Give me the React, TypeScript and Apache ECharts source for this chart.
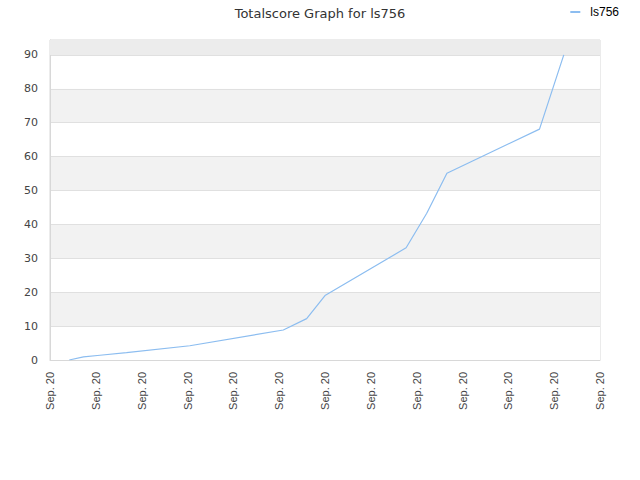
import React, { useEffect, useRef } from "react";
import * as echarts from "echarts";

const titleText = "Totalscore Graph for ls756";
const seriesName = "ls756";
const xLabel = "Sep. 20";
const xPositions = [0.42, 0.73, 1.09, 1.67, 3.05, 5.09, 5.6, 6.0, 7.77, 8.22, 8.66, 10.68, 11.21];
const scores = [0, 0.9, 1.4, 2.15, 4.2, 8.85, 12.2, 19.0, 33.1, 43.3, 55.1, 68.1, 90.0];
const yTicks = [0, 10, 20, 30, 40, 50, 60, 70, 80, 90];

export default function App() {
  const ref = useRef<HTMLDivElement>(null);
  useEffect(() => {
    const chart = echarts.init(ref.current!, null, { renderer: "svg" });
    const font = "DejaVu Sans, Verdana, sans-serif";
    const arial = "Liberation Sans, Arial, sans-serif";
    chart.setOption({
      animation: false,
      title: {
        text: titleText,
        left: "center",
        top: 2,
        textStyle: { fontSize: 13, fontWeight: "normal", color: "#333", fontFamily: font },
      },
      legend: {
        right: 16,
        top: 1,
        itemWidth: 10,
        itemHeight: 2,
        itemGap: 6,
        icon: "rect",
        textStyle: { fontSize: 12, color: "#000", fontFamily: arial, padding: [0, 0, 0, 5] },
        data: [{ name: seriesName, icon: "rect" }],
      },
      grid: { left: 50, right: 40, top: 40, bottom: 120, containLabel: false, show: true, borderColor: "#d8d8d8", borderWidth: 1 },
      xAxis: {
        type: "value",
        min: 0,
        max: 12,
        interval: 1,
        axisLine: { show: true, lineStyle: { color: "#d8d8d8" } },
        axisTick: { show: false },
        splitLine: { show: false },
        axisLabel: {
          rotate: 90,
          color: "#444",
          fontSize: 11,
          fontFamily: arial,
          margin: 12,
          formatter: () => xLabel,
        },
      },
      yAxis: {
        type: "value",
        min: 0,
        max: 94.4,
        interval: 10,
        axisLine: { show: true, lineStyle: { color: "#d8d8d8" } },
        axisTick: { show: false },
        splitLine: { show: true, lineStyle: { color: "#e0e0e0" } },
        splitArea: { show: true, areaStyle: { color: ["#ffffff", "#f2f2f2"] } },
        axisLabel: {
          color: "#444",
          fontSize: 11,
          fontFamily: font,
          margin: 12,
          formatter: (v: number) => (yTicks.includes(Math.round(v * 1000) / 1000) ? String(v) : ""),
        },
      },
      series: [
        {
          name: seriesName,
          type: "line",
          data: xPositions.map((x, i) => [x, scores[i]]),
          showSymbol: false,
          symbol: "none",
          lineStyle: { color: "#8cbdf0", width: 1.2 },
          itemStyle: { color: "#8cbdf0" },
          markArea: {
            silent: true,
            itemStyle: { color: "#ececec" },
            data: [[{ yAxis: 90 }, { yAxis: 94.4 }]],
          },
        },
      ],
    });
    return () => chart.dispose();
  }, []);
  return <div ref={ref} style={{ width: 640, height: 480, position: "absolute", left: 0, top: 0 }} />;
}
